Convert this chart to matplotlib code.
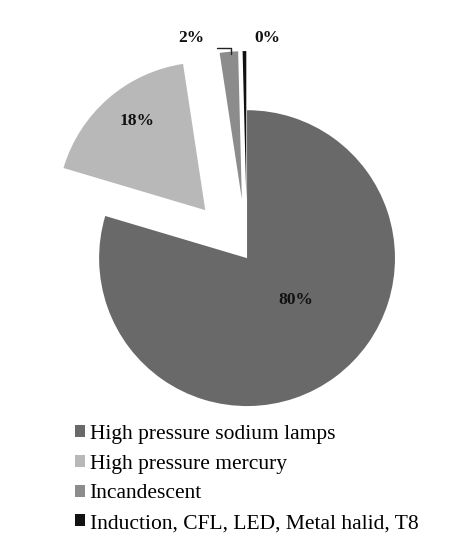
import numpy
from matplotlib import pyplot

# Data
labels = [
    "High pressure sodium lamps",
    "High pressure mercury",
    "Incandescent",
    "Induction, CFL, LED, Metal halid, T8",
]
shares = [79.6, 18.0, 2.0, 0.4]
colors = ["#696969", "#b8b8b8", "#8c8c8c", "#111111"]
explode = [0.0, 0.43, 0.40, 0.40]

# label anchors (in pie radius units)
label_pos = [(0.33, -0.28), (-0.74, 0.93), (-0.38, 1.49), (0.14, 1.49)]

fig = pyplot.figure(figsize=(4.76, 5.35), dpi=100)
ax = fig.add_axes([0.208, 0.241, 0.622, 0.553])

wedges, _ = ax.pie(
    shares,
    colors=colors,
    explode=explode,
    startangle=90,
    counterclock=False,
    radius=1.0,
    wedgeprops=dict(linewidth=0),
)
ax.set_xlim(-1, 1)
ax.set_ylim(-1, 1)
ax.axis("off")
for w in wedges:
    w.set_clip_on(False)

# Percentage labels
pcts = [f"{round(s):.0f}%" for s in shares]
for (x, y), txt in zip(label_pos, pcts):
    ax.text(x, y, txt, ha="center", va="center", fontsize=12.5,
            fontweight="bold", family="Liberation Serif", color="#111111",
            clip_on=False)

# leader line for the 2% slice
ax.annotate("", xy=(-0.11, 1.36), xytext=(-0.22, 1.42),
            arrowprops=dict(arrowstyle="-", color="#222222", lw=1,
                            connectionstyle="angle,angleA=0,angleB=90,rad=0"),
            annotation_clip=False)

fig.legend(
    wedges, labels,
    loc="upper left", bbox_to_anchor=(0.158, 0.206),
    frameon=False,
    prop=dict(family="Liberation Serif", size=15.5),
    handlelength=0.47, handleheight=0.47, handletextpad=0.2,
    labelspacing=0.5, borderaxespad=0, borderpad=0,
)

fig.savefig("out.png", dpi=100)
